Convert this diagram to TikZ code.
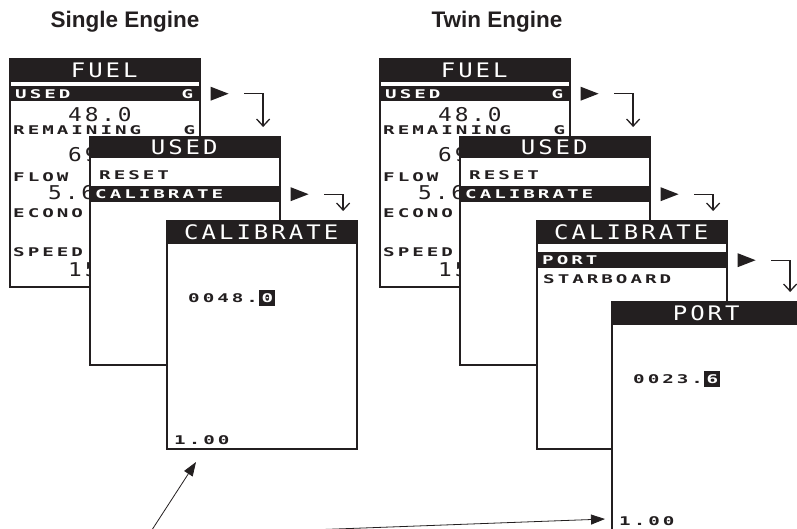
\documentclass[tikz,border=0pt]{standalone}
\usepackage{fontspec}
\usepackage{tikz}
\usetikzlibrary{positioning,shapes.geometric,arrows.meta}
\setmainfont{Liberation Sans}
\newfontfamily\lcdbig{DejaVu Sans Mono}[FakeStretch=1.2,LetterSpace=15]
\newfontfamily\lcdsmall{DejaVu Sans Mono}[FakeStretch=1.6,LetterSpace=25]
\definecolor{ink}{HTML}{231F20}
\tikzset{screen/.style={draw=ink,line width=2pt,fill=white,anchor=north west,
                        minimum width=190pt,minimum height=228pt,inner sep=0pt}}
\tikzset{titlebar/.style={fill=ink,text=white,anchor=north west,inner sep=0pt,
                          minimum width=190pt,minimum height=24pt,
                          font=\lcdbig\fontsize{20}{20}\selectfont}}
\tikzset{hirow/.style={fill=ink,text=white,anchor=north west,inner xsep=6pt,
                       inner ysep=0pt,text width=178pt,minimum height=15pt,align=left,
                       font=\lcdsmall\bfseries\fontsize{12}{12}\selectfont}}
\tikzset{lcdrow/.style={text=ink,anchor=west,inner sep=0pt,text width=182pt,align=left,
                        font=\lcdsmall\bfseries\fontsize{12}{12}\selectfont}}
\tikzset{digits/.style={text=ink,anchor=west,inner sep=0pt,
                        font=\lcdsmall\bfseries\fontsize{12}{12}\selectfont}}
\tikzset{reading/.style={text=ink,anchor=west,inner sep=0pt,
                         font=\lcdbig\fontsize{19}{19}\selectfont}}
\tikzset{cursor/.style={fill=ink,text=white,inner sep=0pt,minimum size=16pt,
                        font=\lcdsmall\bfseries\fontsize{12}{12}\selectfont}}
\tikzset{marker/.style={isosceles triangle,isosceles triangle stretches,fill=ink,
                        inner sep=0pt,minimum width=14pt,minimum height=18pt}}
\tikzset{hookline/.style={draw=ink,line width=1.3pt,shorten >=9pt,
                          -{Straight Barb[length=7pt,width=13pt]}}}
\tikzset{pointer/.style={draw=ink,line width=0.8pt,-{Triangle[length=14pt,width=10pt]}}}
\tikzset{heading/.style={text=ink,anchor=base,font=\bfseries\fontsize{22.5}{24}\selectfont}}
% FUEL page, #1 is the screen
\newcommand{\fuelpage}[1]{%
    \node[titlebar] (#1t) at (#1.north west) {FUEL};
    \node[hirow] (#1u) at ([yshift=-28pt]#1.north west) {USED\hfill G};
    \foreach \txt/\dy [count=\i] in {REMAINING\hfill G/72,FLOW/119,ECONO/155,SPEED/194}{%
        \node[lcdrow] (#1l\i) at ([shift={(4pt,-\dy pt)}]#1.north west) {\txt};
    }
    \foreach \txt/\dx/\dy [count=\i] in {48.0/59/57,69/59/97,5.6/39/135,15/59/212}{%
        \node[reading] (#1r\i) at ([shift={(\dx pt,-\dy pt)}]#1.north west) {\txt};
    }
}
% USED page
\newcommand{\usedpage}[1]{%
    \node[titlebar,minimum height=22pt] (#1t) at (#1.north west) {USED};
    \node[lcdrow] (#1l1) at ([shift={(10pt,-39pt)}]#1.north west) {RESET};
    \node[hirow,minimum height=16pt] (#1u) at ([yshift=-50pt]#1.north west) {CALIBRATE};
}
% value entry page: screen, title, value, cursor digit
\newcommand{\entrypage}[4]{%
    \node[titlebar] (#1t) at (#1.north west) {#2};
    \node[digits] (#1v) at ([shift={(22pt,-78pt)}]#1.north west) {#3};
    \node[cursor,right=1pt of #1v] (#1c) {#4};
    \node[digits] (#1f) at ([shift={(8pt,-220pt)}]#1.north west) {1.00};
}
\begin{document}
\begin{tikzpicture}[x=1pt,y=-1pt]
    \useasboundingbox (0,0) rectangle (797,528);
    % Headings
    \node[heading] (single) at (125,27) {Single Engine};
    \node[heading] (twin) at (497,27) {Twin Engine};
    % Single engine pages
    \node[screen] (fuelA) at (9,58) {};
    \fuelpage{fuelA}
    \node[screen] (usedA) at (89,136) {};
    \usedpage{usedA}
    \node[screen] (calA) at (166,220) {};
    \entrypage{calA}{CALIBRATE}{0048.}{0}
    % Twin engine pages
    \node[screen] (fuelB) at (379,58) {};
    \fuelpage{fuelB}
    \node[screen] (usedB) at (459,136) {};
    \usedpage{usedB}
    \node[screen] (calB) at (536,220) {};
    \node[titlebar] (calBt) at (calB.north west) {CALIBRATE};
    \node[hirow,minimum height=16pt] (calBu) at ([yshift=-32pt]calB.north west) {PORT};
    \node[lcdrow] (calBl1) at ([shift={(7pt,-59pt)}]calB.north west) {STARBOARD};
    \node[screen] (portB) at (611,301) {};
    \entrypage{portB}{PORT}{0023.}{6}
    % Draw the select markers and the hooks to the next page
    \foreach \r/\s in {fuelAu/usedA,usedAu/calA,fuelBu/usedB,usedBu/calB,calBu/portB}{%
        \node[marker,right=11pt of \r] (m\r) {};
        \draw[hookline] ([xshift=15pt]m\r.east) -| ([xshift=34pt]m\r.east |- \s.north);
    }
    % Pointers to the factor
    \coordinate (note) at (148,536);
    \draw[pointer] (note) -- ([shift={(30pt,-12pt)}]calA.south west);
    \draw[pointer] (note) -- ([shift={(-6pt,12pt)}]portB.south west);
\end{tikzpicture}
\end{document}
